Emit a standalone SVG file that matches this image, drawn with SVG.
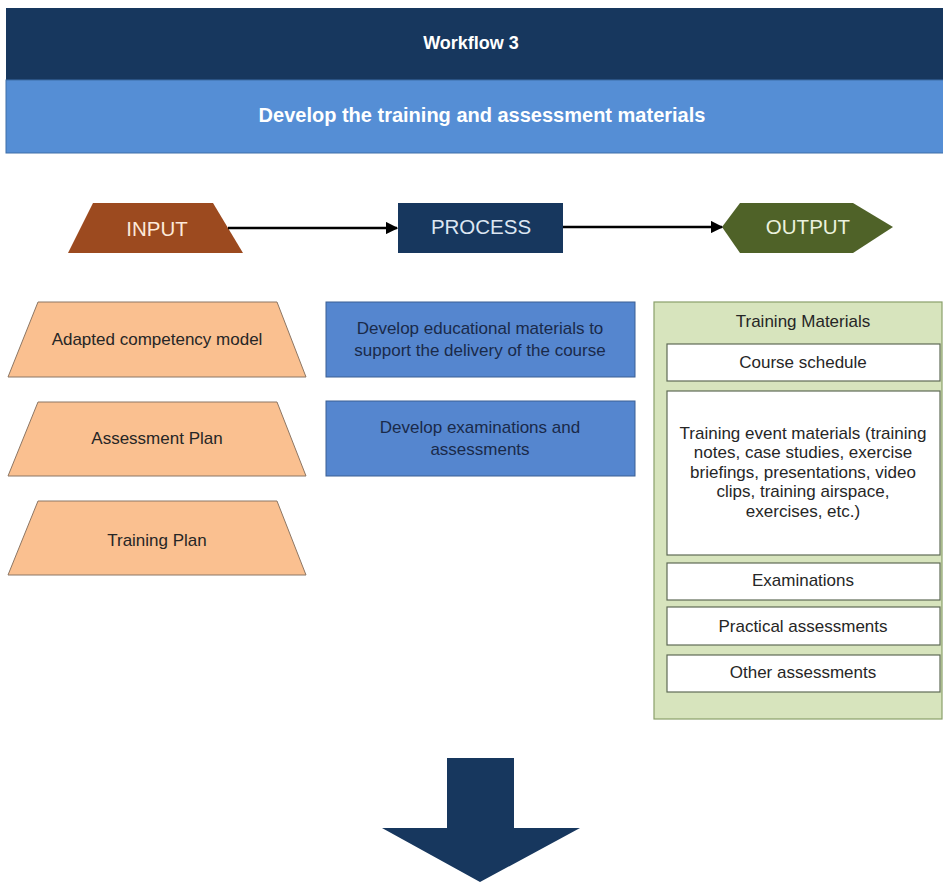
<svg xmlns="http://www.w3.org/2000/svg" width="943" height="882" viewBox="0 0 943 882">
<defs>
<marker id="ah" viewBox="0 0 10 10" refX="9" refY="5" markerWidth="5" markerHeight="5" orient="auto" markerUnits="strokeWidth">
<path d="M0,0 L10,5 L0,10 z" fill="#000"/>
</marker>
<style>
text{font-family:"Liberation Sans",Arial,sans-serif;text-anchor:middle}
.hd{fill:#fff;font-weight:bold}
.lbl{font-size:17px;fill:#262626}
.plbl{font-size:17px;fill:#1a2a4a}
.big{font-size:20.5px}
.inp{fill:#fac090;stroke:#8c7664;stroke-width:1}
.proc{fill:#5586cf;stroke:#3b5f93;stroke-width:1}
.wbox{fill:#fff;stroke:#5f6b55;stroke-width:1.2}
.conn{stroke:#000;stroke-width:2.5;fill:none;marker-end:url(#ah)}
</style>
</defs>
<rect width="943" height="882" fill="#fff"/>
<g id="header">
<rect x="6" y="8" width="940" height="72" fill="#17375e"/>
<rect x="6" y="80" width="940" height="73" fill="#558ed5" stroke="#3f6ea8" stroke-width="1"/>
<text class="hd" x="471" y="49" font-size="18">Workflow 3</text>
<text class="hd" x="482" y="122" font-size="20">Develop the training and assessment materials</text>
</g>
<g id="input-head">
<polygon points="93,203 213,203 243,253 68,253" fill="#9c4a1f"/>
<text class="big" x="157" y="236" fill="#fde9d9">INPUT</text>
</g>
<g id="process-head">
<rect x="398" y="203" width="165" height="50" fill="#17375e"/>
<text class="big" x="481" y="234" fill="#dce6f2">PROCESS</text>
</g>
<g id="output-head">
<polygon points="722,227 740,203 853,203 893,227 853,253 740,253" fill="#4f6228"/>
<text class="big" x="808" y="234" fill="#ebf1de">OUTPUT</text>
</g>
<g id="connectors">
<line class="conn" x1="228" y1="228" x2="397" y2="228"/>
<line class="conn" x1="563" y1="227" x2="722" y2="227"/>
</g>
<g id="input-1">
<polygon class="inp" points="38,302 277,302 306,377 8,377"/>
<text class="lbl" x="157" y="345">Adapted competency model</text>
</g>
<g id="input-2">
<polygon class="inp" points="38,402 277,402 306,476 8,476"/>
<text class="lbl" x="157" y="444">Assessment Plan</text>
</g>
<g id="input-3">
<polygon class="inp" points="38,501 277,501 306,575 8,575"/>
<text class="lbl" x="157" y="546">Training Plan</text>
</g>
<g id="process-1">
<rect class="proc" x="326" y="302" width="309" height="75"/>
<text class="plbl" x="480" y="334">Develop educational materials to</text>
<text class="plbl" x="480" y="356">support the delivery of the course</text>
</g>
<g id="process-2">
<rect class="proc" x="326" y="401" width="309" height="75"/>
<text class="plbl" x="480" y="433">Develop examinations and</text>
<text class="plbl" x="480" y="455">assessments</text>
</g>
<g id="output-container">
<rect x="654" y="302" width="288" height="417" fill="#d7e4bd" stroke="#8aa06a" stroke-width="1.2"/>
<text class="lbl" x="803" y="327">Training Materials</text>
</g>
<g id="out-course">
<rect class="wbox" x="667" y="344" width="273" height="37"/>
<text class="lbl" x="803" y="368">Course schedule</text>
</g>
<g id="out-event">
<rect class="wbox" x="667" y="391" width="273" height="164"/>
<text class="lbl" x="803" y="439">Training event materials (training</text>
<text class="lbl" x="803" y="458">notes, case studies, exercise</text>
<text class="lbl" x="803" y="478">briefings, presentations, video</text>
<text class="lbl" x="803" y="497">clips, training airspace,</text>
<text class="lbl" x="803" y="517">exercises, etc.)</text>
</g>
<g id="out-exam">
<rect class="wbox" x="667" y="563" width="273" height="37"/>
<text class="lbl" x="803" y="586">Examinations</text>
</g>
<g id="out-practical">
<rect class="wbox" x="667" y="607" width="273" height="38"/>
<text class="lbl" x="803" y="632">Practical assessments</text>
</g>
<g id="out-other">
<rect class="wbox" x="667" y="655" width="273" height="37"/>
<text class="lbl" x="803" y="678">Other assessments</text>
</g>
<g id="down-arrow">
<polygon points="447,758 514,758 514,828 580,828 480,882 382,828 447,828" fill="#17375e"/>
</g>
</svg>
